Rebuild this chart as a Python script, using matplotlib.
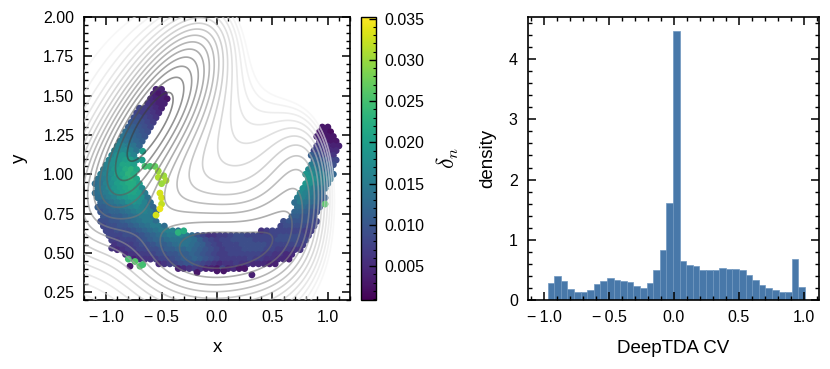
import numpy as np
import matplotlib
matplotlib.use("Agg")
import matplotlib.pyplot as plt
from matplotlib.ticker import MultipleLocator

plt.rcParams['font.family'] = ['Liberation Sans', 'DejaVu Sans']
plt.rcParams['mathtext.fontset'] = 'cm'
plt.rcParams['font.size'] = 11.5

# Histogram
hist_left = -0.975
hist_width = 0.0509
hist_heights = [0.28,0.40,0.31,0.19,0.13,0.14,0.17,0.26,0.32,0.36,0.34,0.32,0.30,0.24,0.20,0.29,0.50,0.83,1.61,4.47,
                0.64,0.58,0.56,0.50,0.50,0.50,0.53,0.52,0.52,0.49,0.42,0.33,0.25,0.20,0.16,0.135,0.14,0.68,0.22]

# Scatter band: cell-by-cell estimate from the picture; delta_n in units of 0.001.
cell_dx = 0.05
row_y = [1.54,1.51,1.48,1.45,1.42,1.39,1.36,1.33,1.30,1.27,1.24,1.21,1.18,1.15,1.12,1.09,1.06,1.03,1.00,0.97,0.94,0.91,0.88,
         0.85,0.82,0.79,0.76,0.73,0.70,0.67,0.64,0.61,0.58,0.55,0.52,0.49,0.46,0.43,0.40]
left_start = [-.55,-.575,-.60,-.625,-.70,-.725,-.75,-.775,-.80,-.825,-.85,-.875,-.90,-.925,-.95,-.975,-1.0,-1.025,-1.05,-1.075,-1.10,-1.075,-1.10,
              -1.075,-1.05,-1.075,-1.05,-1.025,-1.05,-1.025,-1.0,-.975,-.95,-.925,-.90,-.825,-.75,-.525,-.35]
left_vals = [[4,4],[4,3,4],[5,4,4,3],[6,5,4,4],[8,7,6,5,4],[8,7,7,6,5],[9,9,8,7,6],[10,10,9,8,7],[11,11,10,9,8],[13,12,11,10,9],
 [14,13,12,11,10],[15,14,13,12,11],[16,16,15,14,12],[16,17,17,16,14],[16,18,19,18,16],[16,18,19,20,20,18],[16,18,19,21,21,20],
 [15,17,19,20,22,23,21],[15,16,18,20,21,23,22],[14,15,17,19,20,22,23,21],[13,14,16,18,20,21,22,22,20],[14,15,17,19,20,21,22,21,17],
 [13,14,15,17,19,20,21,21,20,15],[13,14,15,16,18,19,20,20,18,14],[12,13,14,15,16,18,19,18,16,13],[11,11,12,13,14,15,16,17,16,15,12],
 [10,11,12,12,13,14,15,16,16,15,12],[10,10,11,11,12,13,14,15,15,14],[9,9,10,10,11,12,13,14,15,15,13],[8,9,9,10,10,11,12,13,14,15,15,13],
 [8,8,9,9,9,10,11,12,13,14,15,16,16,14],
 [8,8,8,9,9,9,10,11,12,13,14,15,15,16,15,13,10,8,6,6,7,7,8,9,9,8,8,8,8,8,8,9,9,9,9,8,7],
 [7,7,8,8,8,9,10,11,12,12,13,14,14,14,14,13,11,9,8,7,8,8,9,9,9,9,8,8,8,8,9,9,9,9,8,8],
 [6,7,7,7,8,9,9,10,11,11,12,13,14,14,13,12,11,9,8,7,8,8,8,9,9,9,9,9,8,8,8,8,8,8,7],
 [5,6,7,7,8,8,9,9,10,11,11,12,12,13,12,11,10,9,8,7,8,8,8,9,9,9,9,8,8,7,7,7,6,6],
 [5,6,6,7,7,8,9,9,10,10,11,11,12,11,10,9,8,7,7,8,8,8,8,8,8,7,7,6,6,5,5],
 [4,5,6,6,7,8,8,9,10,11,11,12,11,10,9,8,7,7,7,7,7,8,7,7,6,6,5,5,4],
 [5,6,7,8,9,10,10,9,8,7,6,5,6,6,7,6,6,5,5,5,4,4],
 [4,5,6,7,6,4,4,3,8,4,5,3,3]]
right_start = [None]*8 + [.95,.925,.90,.925,.90,.875,.85,.875,.85,.825,.80,.825,.80,.775,.75,.725,.70,.725,.70,.675,.60,.575,.40]
right_vals = [[3,3],[3,3,2],[4,3,3,3],[5,4,3,3],[7,6,5,4,4],[8,8,6,5,5],[11,10,8,7,6],[12,11,10,8,8],[15,13,12,11,9],[17,16,14,12,11],
 [19,18,16,15,13,12],[19,18,16,15,14],[19,18,16,15,13],[18,17,15,14,13],[17,16,15,13,12],[15,16,15,14,12,11],[13,15,14,13,12,10],
 [13,13,12,11,10],[12,12,11,10,9],[11,11,10,10,9],[9,10,10,10,10,9,8],[8,9,9,9,9,8,8],[6,7,8,8,8,8,8,8,7,7]]

# Stray points seen individually
stray_x = [-.67,-.675,-.65,-.605,-.56,-.53,-.48,-.53,-.46,-.50,-.515,-.50,-.50,-.515,-.55,-.80,-.74,-.695,-.67,.975,.315,-.18,0.0,.06,-.785,-.95,-.35,-.30]
stray_y = [1.146,1.09,1.05,1.05,1.05,1.02,.99,.98,.96,.94,.88,.85,.81,.78,.74,.46,.445,.415,.425,.81,.36,.375,.385,.385,.415,.53,.63,.64]
stray_d = [20,20,25,25,27,30,30,31,31,30,33,33,32,34,33,25,26,26,25,26,4,3,3,3,3,6,23,22]

# Background contour surface: NOT read point by point. It is an approximate
# reconstruction from well parameters fitted by eye to the picture's contours.
well_A = [-135, -70, -130, 8, -25, -25, -90]
well_a = [-4.5, -1.5, -4.5, 0.7, -3, -3, -0.5]
well_b = [2.0, 0, 7.5, 0.6, 3, -3, 0]
well_c = [-1.9, -9, -4.5, 0.7, -4, -4, -0.5]
well_x0 = [1.0, 0, -0.55, -1, .6, -.6, 0]
well_y0 = [1.27, 0.5, 1.4, 1, .6, .6, 0.95]
levels = [-205,-194,-183,-172,-161,-150,-139,-128,-117,-106,-95,-84,-73,-62,-51,-40,-29]

MINUS = '\u2212\u2009'

def px_axes(fig, x0, y0, x1, y1):
    W, H = fig.get_size_inches()*fig.dpi
    return fig.add_axes([x0/W, 1-y1/H, (x1-x0)/W, (y1-y0)/H])

def style(ax, xminor, yminor):
    for s in ax.spines.values():
        s.set_linewidth(1.2)
    ax.xaxis.set_minor_locator(MultipleLocator(xminor))
    ax.yaxis.set_minor_locator(MultipleLocator(yminor))
    ax.tick_params(which='major', direction='in', top=True, right=True, length=5.5, width=1.1, labelsize=11.5, pad=7)
    ax.tick_params(which='minor', direction='in', top=True, right=True, length=2.8, width=1.0)

fig = plt.figure(figsize=(8.30, 3.69), dpi=100)
ax1 = px_axes(fig, 84, 17, 350, 300)
ax2 = px_axes(fig, 527.5, 17, 818.5, 300)
cax = px_axes(fig, 361, 17, 376, 300)

xs, ys, ds = [], [], []
for y, s, v in zip(row_y, left_start, left_vals):
    for j, d in enumerate(v):
        xs.append(s + j*cell_dx); ys.append(y); ds.append(d)
for y, s, v in zip(row_y[8:], right_start[8:], right_vals):
    for j, d in enumerate(v):
        xs.append(s + j*cell_dx); ys.append(y); ds.append(d)
xs += stray_x; ys += stray_y; ds += stray_d
xs, ys, ds = np.array(xs), np.array(ys), np.array(ds)*1e-3

sc = ax1.scatter(xs, ys, c=ds, cmap='viridis', vmin=0.0009, vmax=0.0352, s=24, linewidths=0, zorder=2)

gx, gy = np.meshgrid(np.linspace(-1.3, 1.3, 400), np.linspace(0.1, 2.1, 400))
Z = np.zeros_like(gx)
for A, a, b, c, x0, y0 in zip(well_A, well_a, well_b, well_c, well_x0, well_y0):
    Z = Z + A*np.exp(a*(gx-x0)**2 + b*(gx-x0)*(gy-y0) + c*(gy-y0)**2)
ax1.contour(gx, gy, Z, levels=levels, cmap='Greys_r', vmin=-225, vmax=-5, alpha=0.6, linewidths=1.2, zorder=3)

ax1.set_xlim(-1.2, 1.2)
ax1.set_ylim(0.2, 2.0)
ax1.set_xticks([-1, -.5, 0, .5, 1])
ax1.set_xticklabels([MINUS+'1.0', MINUS+'0.5', '0.0', '0.5', '1.0'])
ax1.set_yticks([.25, .5, .75, 1, 1.25, 1.5, 1.75, 2])
ax1.set_yticklabels(['0.25', '0.50', '0.75', '1.00', '1.25', '1.50', '1.75', '2.00'])
style(ax1, 0.1, 0.05)
ax1.set_xlabel('x', fontsize=13.5, labelpad=10)
ax1.set_ylabel('y', fontsize=13.5, labelpad=11)

cb = fig.colorbar(sc, cax=cax)
cb.set_ticks([.005, .01, .015, .02, .025, .03, .035])
cb.set_ticklabels(['0.005', '0.010', '0.015', '0.020', '0.025', '0.030', '0.035'])
cax.yaxis.set_minor_locator(MultipleLocator(0.001))
cax.tick_params(which='major', direction='in', length=5, width=1.0, labelsize=11.5, pad=6, right=True)
cax.tick_params(which='minor', direction='in', length=2.5, width=0.8, right=True)
cb.outline.set_linewidth(1.0)
cb.set_label(r'$\delta_n$', fontsize=17, labelpad=8)

edges = hist_left + hist_width*np.arange(len(hist_heights))
ax2.bar(edges, hist_heights, width=hist_width, align='edge', color='#4878a9', edgecolor='#6f97bf', linewidth=0.5)
ax2.set_xlim(-1.13, 1.115)
ax2.set_ylim(0, 4.7)
ax2.set_xticks([-1, -.5, 0, .5, 1])
ax2.set_xticklabels([MINUS+'1.0', MINUS+'0.5', '0.0', '0.5', '1.0'])
ax2.set_yticks([0, 1, 2, 3, 4])
style(ax2, 0.1, 0.2)
ax2.set_xlabel('DeepTDA CV', fontsize=13.5, labelpad=11)
ax2.set_ylabel('density', fontsize=13.5, labelpad=9)

fig.savefig('out.png', dpi=100)
